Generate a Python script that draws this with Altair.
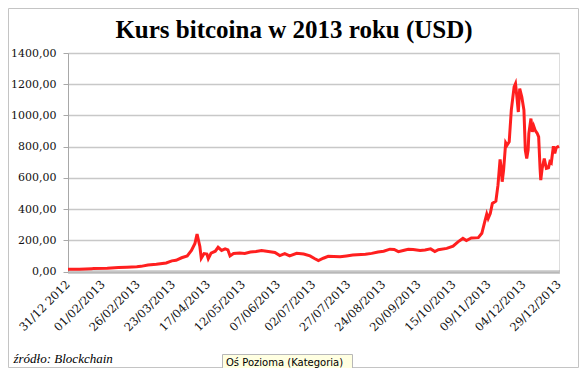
import altair as alt
import pandas as pd

# category position along the (category) x axis, and price in USD
category_index = [0, 8, 17, 18, 28, 36, 42, 49, 52, 57, 63, 70, 74, 77, 81, 85, 88, 90.5, 92, 94,
                  95, 97, 99, 100, 102, 105, 107, 109.5, 112, 114, 115.5, 118, 122.5, 126, 130, 134,
                  138, 144, 147.5, 151, 154.5, 158, 163, 168, 172.5, 176, 178.5, 182, 185.5, 189.5,
                  194, 198.5, 203, 212, 216.5, 221, 225, 229.5, 232.5, 235.5, 239, 242.5, 246, 251,
                  254.5, 258.5, 261.5, 264, 270, 274.5, 278, 281.5, 284, 287.5, 292.5, 295, 297,
                  298.5, 299.5, 301, 302.5, 305, 306.5, 308, 309, 309.5, 310.5, 312, 313, 314.5, 316,
                  318, 319, 320, 321, 322, 323.5, 325, 326, 327, 328, 328.5, 330, 331, 332, 333,
                  334.5, 335.5, 336.5, 337, 338, 339.5, 341, 342.5, 343.5, 344.5, 346, 347, 348, 350]
price = [14, 15, 17, 20, 21, 26, 28, 31, 33, 42, 46, 55, 68, 72, 88, 100, 135, 180, 240, 160,
         85, 115, 112, 82, 118, 130, 155, 135, 145, 138, 100, 115, 118, 116, 125, 128,
         135, 127, 122, 102, 115, 100, 117, 112, 100, 82, 70, 85, 97, 96,
         94, 100, 105, 110, 116, 125, 130, 143, 141, 127, 135, 143, 141, 135,
         138, 145, 128, 140, 148, 162, 190, 212, 198, 215, 217, 245, 316,
         368, 340, 372, 436, 451, 553, 718, 650, 575, 650, 825, 810, 831, 1034,
         1183, 1204, 1118, 1022, 1172, 1118, 1034, 777, 724, 780, 884, 980, 895, 931, 905,
         884, 863, 661, 586, 661, 724, 661, 665, 703, 695, 803, 756, 793, 803]

tick_positions = [0, 25, 50, 75, 100, 125, 150, 175, 200, 225, 250, 275, 300, 325, 350]
tick_labels = ["31/12 2012", "01/02/2013", "26/02/2013", "23/03/2013", "17/04/2013",
               "12/05/2013", "07/06/2013", "02/07/2013", "27/07/2013", "24/08/2013",
               "20/09/2013", "15/10/2013", "09/11/2013", "04/12/2013", "29/12/2013"]
y_ticks = [0, 200, 400, 600, 800, 1000, 1200, 1400]

title_text = "Kurs bitcoina w 2013 roku (USD)"
source_text = "źródło: Blockchain"
tooltip_text = "Oś  Pozioma  (Kategoria)"

df = pd.DataFrame({"idx": category_index, "price": price})

lab_map = "{" + ",".join(f"'{p}':'{l}'" for p, l in zip(tick_positions, tick_labels)) + "}"
x_label_expr = f"{lab_map}[''+datum.value]"

W, H = 491, 218.5
PL, PT, PR, PB = 60, 45, 20, 96.5

one = pd.DataFrame({"a": [0]})

border = alt.Chart(one).mark_rect(filled=False, stroke="#c4c4c4", strokeWidth=1).encode(
    x=alt.value(-PL + 0.5), x2=alt.value(W + PR - 0.5),
    y=alt.value(-PT + 0.5), y2=alt.value(H + PB - 0.5))

line = alt.Chart(df).mark_line(color="#ff1f1f", strokeWidth=3, interpolate="linear").encode(
    x=alt.X("idx:Q", scale=alt.Scale(domain=[0, 350], nice=False, zero=False),
            axis=alt.Axis(values=tick_positions, labelExpr=x_label_expr, title=None,
                          grid=False, labelAngle=-45, labelAlign="right", labelBaseline="middle",
                          labelFont="DejaVu Serif", labelFontSize=11.5, labelColor="#111",
                          labelPadding=11, tickSize=0, labelOverlap=False,
                          labelBound=False, labelFlush=False,
                          domainColor="#a8a8a8", domainWidth=4, domainDash=[1, 1])),
    y=alt.Y("price:Q", scale=alt.Scale(domain=[0, 1400], nice=False),
            axis=alt.Axis(values=y_ticks, title=None, grid=True, gridColor="#c8c8c8",
                          gridWidth=1.5,
                          labelExpr="replace(format(datum.value, '.2f'), '.', ',')",
                          labelFont="DejaVu Serif", labelFontSize=11, labelColor="#111",
                          tickSize=5, tickColor="#a8a8a8", labelPadding=7,
                          domainColor="#a8a8a8", domainWidth=1)),
)

title = alt.Chart(one).mark_text(text=title_text, font="Liberation Serif", fontWeight="bold",
                                 fontSize=25, align="center", baseline="alphabetic",
                                 color="#000").encode(x=alt.value(226), y=alt.value(-15))

source = alt.Chart(one).mark_text(text=source_text, font="Liberation Serif", fontStyle="italic",
                                  fontSize=13, align="left", baseline="alphabetic",
                                  color="#000").encode(x=alt.value(-54.5), y=alt.value(310))

tip_box = alt.Chart(one).mark_rect(fill="#ffffe1", stroke="#b8b8b8", strokeWidth=1).encode(
    x=alt.value(154.5), x2=alt.value(284.5), y=alt.value(301.5), y2=alt.value(H + PB + 2))

tip = alt.Chart(one).mark_text(text=tooltip_text, font="DejaVu Sans", fontSize=10,
                               align="left", baseline="alphabetic", color="#000").encode(
    x=alt.value(158), y=alt.value(313))

chart = alt.layer(border, line, title, source, tip_box, tip).properties(
    width=W, height=H,
    autosize=alt.AutoSizeParams(type="none"),
    padding={"left": PL, "top": PT, "right": PR, "bottom": PB},
).configure_view(stroke=None).configure(background="white")

chart.save("out.html", embed_options={"renderer": "svg", "actions": False})
